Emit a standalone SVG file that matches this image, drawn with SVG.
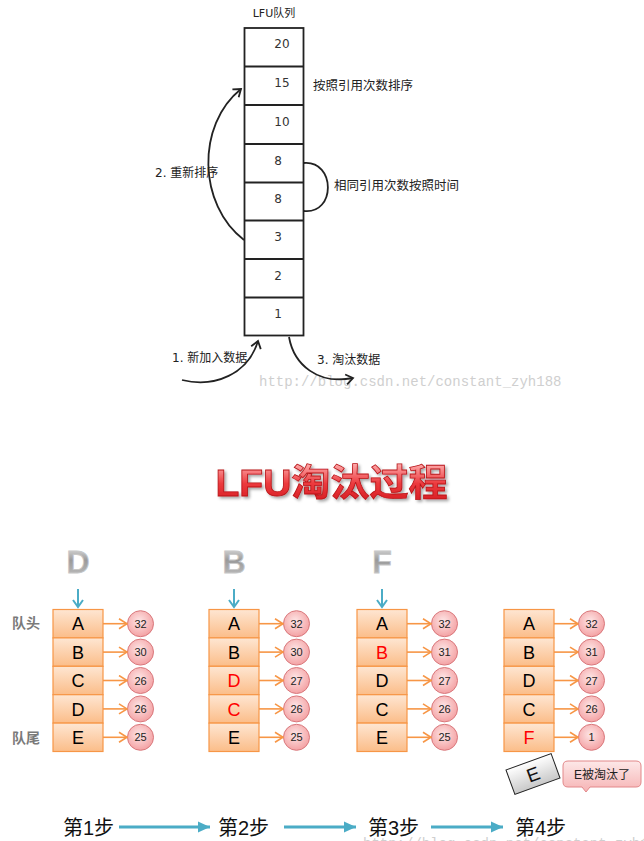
<svg xmlns="http://www.w3.org/2000/svg" width="644" height="841" viewBox="0 0 644 841">
<defs>
<style>
.cjk{font-family:"DejaVu Sans","Noto Sans CJK SC",sans-serif;fill:#222}
.num{font-family:"DejaVu Sans",sans-serif;font-size:12px;fill:#333;text-anchor:middle}
.wm{font-family:"Liberation Mono",monospace;font-size:14px;fill:#cfcfcf}
.cell{fill:url(#cellG);stroke:#f79646;stroke-width:1.2}
.let{font-family:"Liberation Sans",sans-serif;font-size:18px;text-anchor:middle;fill:#000}
.red{fill:#ff0000}
.circ{fill:url(#circG);stroke:#d9787c;stroke-width:1}
.cn{font-family:"Liberation Sans",sans-serif;font-size:11px;text-anchor:middle;fill:#222}
.oarr{stroke:#f79646;stroke-width:1.6;fill:none;marker-end:url(#oHead)}
.barr{stroke:#4bacc6;stroke-width:2;fill:none}
.step{font-family:"Liberation Sans","Noto Sans CJK SC",sans-serif;font-size:20px;fill:#111}
.big{font-family:"Liberation Sans",sans-serif;font-weight:bold;font-size:32px;text-anchor:middle;fill:url(#grayG);stroke:#c8c8c8;stroke-width:0.8}
.side{font-family:"Noto Sans CJK SC",sans-serif;font-size:14px;font-weight:bold;fill:#7a7a7a}
.blk{stroke:#222;stroke-width:1.8;fill:none}
</style>
<linearGradient id="cellG" x1="0" y1="0" x2="0" y2="1">
<stop offset="0" stop-color="#fee6d2"/>
<stop offset="1" stop-color="#fbbd89"/>
</linearGradient>
<radialGradient id="circG" cx="0.45" cy="0.4" r="0.6">
<stop offset="0" stop-color="#fde6e6"/>
<stop offset="1" stop-color="#f4a2a4"/>
</radialGradient>
<linearGradient id="grayG" x1="0" y1="0" x2="0" y2="1">
<stop offset="0" stop-color="#eeeeee"/>
<stop offset="0.45" stop-color="#9a9a9a"/>
<stop offset="1" stop-color="#c4c4c4"/>
</linearGradient>
<linearGradient id="redG" x1="0" y1="0" x2="0" y2="1">
<stop offset="0" stop-color="#ffb0b0"/>
<stop offset="0.5" stop-color="#ec3a3e"/>
<stop offset="1" stop-color="#d41a1f"/>
</linearGradient>
<linearGradient id="boxE" x1="0" y1="0" x2="0" y2="1">
<stop offset="0" stop-color="#ffffff"/>
<stop offset="1" stop-color="#c8c8c8"/>
</linearGradient>
<linearGradient id="callG" x1="0" y1="0" x2="0" y2="1">
<stop offset="0" stop-color="#fde8e8"/>
<stop offset="1" stop-color="#f6b3b4"/>
</linearGradient>
<filter id="shadow" x="-10%" y="-20%" width="130%" height="150%">
<feDropShadow dx="2" dy="2" stdDeviation="1.5" flood-color="#000" flood-opacity="0.35"/>
</filter>
<marker id="kHead" markerWidth="12" markerHeight="12" refX="9" refY="6" orient="auto" markerUnits="userSpaceOnUse">
<path d="M2,1 L9,6 L2,11" fill="none" stroke="#222" stroke-width="1.8"/>
</marker>
<marker id="oHead" markerWidth="12" markerHeight="12" refX="10" refY="6" orient="auto" markerUnits="userSpaceOnUse">
<path d="M2,1 L10,6 L2,11" fill="none" stroke="#f79646" stroke-width="1.6"/>
</marker>
<marker id="bHead" markerWidth="12" markerHeight="12" refX="10" refY="6" orient="auto" markerUnits="userSpaceOnUse">
<path d="M3,1 L10,6 L3,11" fill="none" stroke="#4bacc6" stroke-width="2"/>
</marker>
<marker id="sHead" markerWidth="14" markerHeight="14" refX="12" refY="7" orient="auto" markerUnits="userSpaceOnUse">
<path d="M0,1.5 L12,7 L0,12.5 Z" fill="#4bacc6"/>
</marker>
</defs>

<!-- Top: LFU queue -->
<g id="lfu-queue">
<text x="274" y="17" class="cjk" font-size="11" text-anchor="middle">LFU队列</text>
<rect x="244.5" y="28" width="59" height="307.5" class="blk"/>
<g stroke="#222" stroke-width="1.8">
<line x1="244.5" y1="66.5" x2="303.5" y2="66.5"/>
<line x1="244.5" y1="105" x2="303.5" y2="105"/>
<line x1="244.5" y1="144" x2="303.5" y2="144"/>
<line x1="244.5" y1="182.5" x2="303.5" y2="182.5"/>
<line x1="244.5" y1="220.5" x2="303.5" y2="220.5"/>
<line x1="244.5" y1="259" x2="303.5" y2="259"/>
<line x1="244.5" y1="297.5" x2="303.5" y2="297.5"/>
</g>
<text x="282" y="48" class="num">20</text>
<text x="282" y="87" class="num">15</text>
<text x="282" y="126" class="num">10</text>
<text x="278" y="165" class="num">8</text>
<text x="278" y="203" class="num">8</text>
<text x="278" y="241" class="num">3</text>
<text x="278" y="280" class="num">2</text>
<text x="278" y="318" class="num">1</text>
</g>

<g id="top-labels">
<text x="313" y="90" class="cjk" font-size="12.5">按照引用次数排序</text>
<text x="334" y="190" class="cjk" font-size="12.5">相同引用次数按照时间</text>
<text x="155" y="177" class="cjk" font-size="12">2. 重新排序</text>
<text x="172" y="362" class="cjk" font-size="12">1. 新加入数据</text>
<text x="317" y="364" class="cjk" font-size="12">3. 淘汰数据</text>
<text x="259" y="386" class="wm">http://blog.csdn.net/constant_zyh188</text>
</g>

<g id="top-connectors">
<path d="M303.5,163 C336,160 336,215 303.5,211" class="blk"/>
<path d="M244,240 C198,205 196,125 241,89" class="blk" marker-end="url(#kHead)"/>
<path d="M182,380 C215,388 248,374 258,341" class="blk" marker-end="url(#kHead)"/>
<path d="M289,337 C294,365 318,385 353,378" class="blk" marker-end="url(#kHead)"/>
</g>

<!-- Title -->
<g id="title" filter="url(#shadow)">
<text x="331.5" y="496" font-family="Liberation Sans,Noto Sans CJK SC,sans-serif" font-weight="bold" font-size="37" text-anchor="middle" fill="url(#redG)" stroke="#b81418" stroke-width="0.8" textLength="232" lengthAdjust="spacingAndGlyphs">LFU淘汰过程</text>
</g>

<!-- Side labels -->
<g id="side-labels">
<text x="12" y="628" class="side">队头</text>
<text x="12" y="743" class="side">队尾</text>
</g>

<!-- Incoming letters -->
<g id="incoming">
<text x="78" y="573" class="big">D</text>
<text x="234" y="573" class="big">B</text>
<text x="382" y="573" class="big">F</text>
</g>

<!-- Column 1 -->
<g id="col1" transform="translate(53,0)">
<rect x="0" y="609.5" width="50" height="28.4" class="cell"/>
<rect x="0" y="637.9" width="50" height="28.4" class="cell"/>
<rect x="0" y="666.3" width="50" height="28.4" class="cell"/>
<rect x="0" y="694.7" width="50" height="28.4" class="cell"/>
<rect x="0" y="723.1" width="50" height="28.4" class="cell"/>
<text x="25" y="630" class="let">A</text>
<text x="25" y="658.5" class="let">B</text>
<text x="25" y="687" class="let">C</text>
<text x="25" y="715.5" class="let">D</text>
<text x="25" y="744" class="let">E</text>
<circle cx="87.5" cy="623.7" r="13" class="circ"/>
<circle cx="87.5" cy="652.1" r="13" class="circ"/>
<circle cx="87.5" cy="680.5" r="13" class="circ"/>
<circle cx="87.5" cy="708.9" r="13" class="circ"/>
<circle cx="87.5" cy="737.3" r="13" class="circ"/>
<text x="87.5" y="627.5" class="cn">32</text>
<text x="87.5" y="656" class="cn">30</text>
<text x="87.5" y="684.5" class="cn">26</text>
<text x="87.5" y="713" class="cn">26</text>
<text x="87.5" y="741" class="cn">25</text>
</g>

<!-- Column 2 -->
<g id="col2" transform="translate(209,0)">
<rect x="0" y="609.5" width="50" height="28.4" class="cell"/>
<rect x="0" y="637.9" width="50" height="28.4" class="cell"/>
<rect x="0" y="666.3" width="50" height="28.4" class="cell"/>
<rect x="0" y="694.7" width="50" height="28.4" class="cell"/>
<rect x="0" y="723.1" width="50" height="28.4" class="cell"/>
<text x="25" y="630" class="let">A</text>
<text x="25" y="658.5" class="let">B</text>
<text x="25" y="687" class="let red">D</text>
<text x="25" y="715.5" class="let red">C</text>
<text x="25" y="744" class="let">E</text>
<circle cx="87.5" cy="623.7" r="13" class="circ"/>
<circle cx="87.5" cy="652.1" r="13" class="circ"/>
<circle cx="87.5" cy="680.5" r="13" class="circ"/>
<circle cx="87.5" cy="708.9" r="13" class="circ"/>
<circle cx="87.5" cy="737.3" r="13" class="circ"/>
<text x="87.5" y="627.5" class="cn">32</text>
<text x="87.5" y="656" class="cn">30</text>
<text x="87.5" y="684.5" class="cn">27</text>
<text x="87.5" y="713" class="cn">26</text>
<text x="87.5" y="741" class="cn">25</text>
</g>

<!-- Column 3 -->
<g id="col3" transform="translate(357,0)">
<rect x="0" y="609.5" width="50" height="28.4" class="cell"/>
<rect x="0" y="637.9" width="50" height="28.4" class="cell"/>
<rect x="0" y="666.3" width="50" height="28.4" class="cell"/>
<rect x="0" y="694.7" width="50" height="28.4" class="cell"/>
<rect x="0" y="723.1" width="50" height="28.4" class="cell"/>
<text x="25" y="630" class="let">A</text>
<text x="25" y="658.5" class="let red">B</text>
<text x="25" y="687" class="let">D</text>
<text x="25" y="715.5" class="let">C</text>
<text x="25" y="744" class="let">E</text>
<circle cx="87.5" cy="623.7" r="13" class="circ"/>
<circle cx="87.5" cy="652.1" r="13" class="circ"/>
<circle cx="87.5" cy="680.5" r="13" class="circ"/>
<circle cx="87.5" cy="708.9" r="13" class="circ"/>
<circle cx="87.5" cy="737.3" r="13" class="circ"/>
<text x="87.5" y="627.5" class="cn">32</text>
<text x="87.5" y="656" class="cn">31</text>
<text x="87.5" y="684.5" class="cn">27</text>
<text x="87.5" y="713" class="cn">26</text>
<text x="87.5" y="741" class="cn">25</text>
</g>

<!-- Column 4 -->
<g id="col4" transform="translate(504,0)">
<rect x="0" y="609.5" width="50" height="28.4" class="cell"/>
<rect x="0" y="637.9" width="50" height="28.4" class="cell"/>
<rect x="0" y="666.3" width="50" height="28.4" class="cell"/>
<rect x="0" y="694.7" width="50" height="28.4" class="cell"/>
<rect x="0" y="723.1" width="50" height="28.4" class="cell"/>
<text x="25" y="630" class="let">A</text>
<text x="25" y="658.5" class="let">B</text>
<text x="25" y="687" class="let">D</text>
<text x="25" y="715.5" class="let">C</text>
<text x="25" y="744" class="let red">F</text>
<circle cx="87.5" cy="623.7" r="13" class="circ"/>
<circle cx="87.5" cy="652.1" r="13" class="circ"/>
<circle cx="87.5" cy="680.5" r="13" class="circ"/>
<circle cx="87.5" cy="708.9" r="13" class="circ"/>
<circle cx="87.5" cy="737.3" r="13" class="circ"/>
<text x="87.5" y="627.5" class="cn">32</text>
<text x="87.5" y="656" class="cn">31</text>
<text x="87.5" y="684.5" class="cn">27</text>
<text x="87.5" y="713" class="cn">26</text>
<text x="87.5" y="741" class="cn">1</text>
</g>

<!-- Evicted E -->
<g id="evicted-e" transform="translate(533,774) rotate(-20)">
<rect x="-24" y="-13" width="48" height="26" fill="url(#boxE)" stroke="#222" stroke-width="1"/>
<text x="0" y="7" font-family="Liberation Sans,sans-serif" font-size="19" text-anchor="middle" fill="#111">E</text>
</g>

<g id="callout">
<path d="M568,761 H636 Q641,761 641,766 V782 Q641,787 636,787 H590 L586,792 L582,787 H568 Q563,787 563,782 V766 Q563,761 568,761 Z" fill="url(#callG)" stroke="#e2888a" stroke-width="1"/>
<text x="602" y="778.5" font-family="Liberation Sans,Noto Sans CJK SC,sans-serif" font-size="12" text-anchor="middle" fill="#222">E被淘汰了</text>
</g>

<!-- Connectors -->
<g id="connectors">
<line x1="78" y1="589" x2="78" y2="607" class="barr" marker-end="url(#bHead)"/>
<line x1="234" y1="589" x2="234" y2="607" class="barr" marker-end="url(#bHead)"/>
<line x1="382" y1="589" x2="382" y2="607" class="barr" marker-end="url(#bHead)"/>
<g id="col-arrows">
<line x1="103" y1="623.7" x2="127" y2="623.7" class="oarr"/>
<line x1="103" y1="652.1" x2="127" y2="652.1" class="oarr"/>
<line x1="103" y1="680.5" x2="127" y2="680.5" class="oarr"/>
<line x1="103" y1="708.9" x2="127" y2="708.9" class="oarr"/>
<line x1="103" y1="737.3" x2="127" y2="737.3" class="oarr"/>
<line x1="259" y1="623.7" x2="283" y2="623.7" class="oarr"/>
<line x1="259" y1="652.1" x2="283" y2="652.1" class="oarr"/>
<line x1="259" y1="680.5" x2="283" y2="680.5" class="oarr"/>
<line x1="259" y1="708.9" x2="283" y2="708.9" class="oarr"/>
<line x1="259" y1="737.3" x2="283" y2="737.3" class="oarr"/>
<line x1="407" y1="623.7" x2="431" y2="623.7" class="oarr"/>
<line x1="407" y1="652.1" x2="431" y2="652.1" class="oarr"/>
<line x1="407" y1="680.5" x2="431" y2="680.5" class="oarr"/>
<line x1="407" y1="708.9" x2="431" y2="708.9" class="oarr"/>
<line x1="407" y1="737.3" x2="431" y2="737.3" class="oarr"/>
<line x1="554" y1="623.7" x2="578" y2="623.7" class="oarr"/>
<line x1="554" y1="652.1" x2="578" y2="652.1" class="oarr"/>
<line x1="554" y1="680.5" x2="578" y2="680.5" class="oarr"/>
<line x1="554" y1="708.9" x2="578" y2="708.9" class="oarr"/>
<line x1="554" y1="737.3" x2="578" y2="737.3" class="oarr"/>
</g>
<g id="step-arrows" stroke="#4bacc6" stroke-width="3">
<line x1="119" y1="827" x2="210" y2="827" marker-end="url(#sHead)"/>
<line x1="284" y1="827" x2="356" y2="827" marker-end="url(#sHead)"/>
<line x1="431" y1="827" x2="503" y2="827" marker-end="url(#sHead)"/>
</g>
</g>

<!-- Steps -->
<g id="steps">
<text x="63" y="835" class="step">第1步</text>
<text x="218" y="835" class="step">第2步</text>
<text x="368" y="835" class="step">第3步</text>
<text x="515" y="835" class="step">第4步</text>
</g>
<text x="363" y="848" class="wm">http://blog.csdn.net/constant_zyh188</text>
</svg>
